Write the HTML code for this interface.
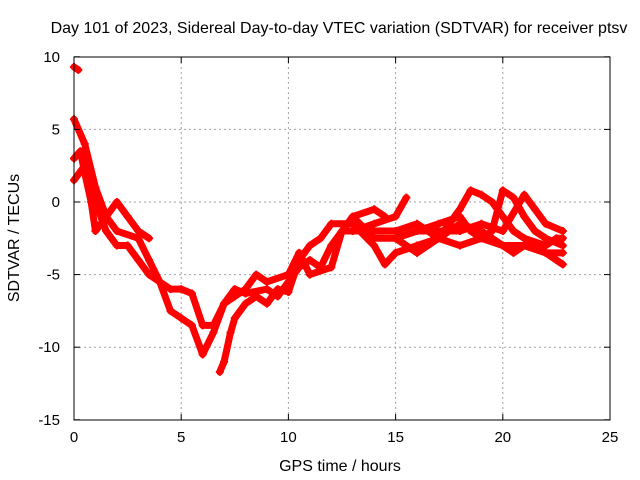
<!DOCTYPE html>
<html><head><meta charset="utf-8"><style>
body{margin:0;background:#fff}
svg{display:block;font-family:"Liberation Sans",sans-serif;font-size:15px}
</style></head><body>
<svg id="chart" width="640" height="480">
<text x="339" y="33" text-anchor="middle" style="font-size:16px">Day 101 of 2023, Sidereal Day-to-day VTEC variation (SDTVAR) for receiver ptsv</text>
<text x="340" y="471" text-anchor="middle" style="font-size:16px">GPS time / hours</text>
<text transform="translate(19,238) rotate(-90)" text-anchor="middle" style="font-size:16px">SDTVAR / TECUs</text>
<g id="grid"></g>
<g id="series"></g>
<rect x="74" y="57" width="536" height="363" fill="none" stroke="#000"/>
<g id="ticks"></g>
</svg>
<script>
const xTicks=[0,5,10,15,20,25];
const yTicks=[10,5,0,-5,-10,-15];
const trackA=[[0,5.7],[0.5,4],[1,1],[1.5,-1],[2,-2],[3,-2.5],[3.5,-4],[4,-5.5],[4.5,-6],[5,-6],[5.5,-6.3],[6,-8.5],[6.5,-8.5],[7,-7],[7.5,-6],[8,-6.3],[9,-6],[9.5,-6.5],[10,-5.5],[10.5,-4.5],[11,-4],[11.5,-4.5],[12,-3],[12.5,-2],[13,-2],[14,-1.5],[15,-1],[15.5,0.3]];
const trackB=[[0,1.5],[0.5,2.5],[1,0],[1.5,-2],[2,-3],[2.5,-3],[3,-4],[3.5,-5],[4,-5.5],[4.5,-7.5],[5,-8],[5.5,-8.5],[6,-10.5],[6.5,-9],[7,-7],[7.5,-6.5],[8,-6],[8.5,-5],[9,-5.5],[10,-5],[10.5,-3.5],[11,-5],[12,-4.5],[12.5,-2],[13,-1],[14,-0.5],[14.5,-1]];
const trackC=[[6.8,-11.7],[7,-11],[7.3,-9],[7.5,-8],[8,-7],[8.5,-6.5],[9,-7],[9.5,-6],[10,-6.2],[10.5,-4],[11,-3],[11.5,-2.5],[12,-1.5],[13,-1.5],[14,-3],[14.5,-4.3],[15,-3.5],[16,-3],[17,-2.5],[18,-1.5],[19,-2],[20,-3],[20.5,-3.5],[21,-3],[22,-3.5],[22.5,-4],[22.8,-4.3]];
const trackD=[[13,-2],[14,-2],[15,-2],[16,-1.5],[17,-2.5],[17.5,-1.5],[18,-0.5],[18.5,0.8],[19,0.5],[19.5,0],[20,-1],[20.5,-2],[21,-2.5],[22,-3],[22.5,-2.5],[22.8,-2.5]];
const trackE=[[15,-2.5],[16,-2],[17,-1.5],[18,-1],[18.5,-2],[19,-2.5],[19.5,-2],[20,0.8],[20.5,0.3],[21,-1],[21.5,-2],[22,-2.5],[22.8,-3]];
const trackF=[[16,-2],[17,-2],[18,-2],[19,-1.5],[20,-2],[21,0.5],[21.5,-0.5],[22,-1.5],[22.8,-2]];
const trackG=[[13,-1],[14,-2.5],[15,-2.5],[16,-3.5],[17,-2.5],[18,-3],[19,-2.5],[20,-3],[21,-3],[22,-3.5],[22.8,-3.5]];
const trackH=[[0,9.3],[0.2,9.1]];
const trackI=[[0,3],[0.3,3.5],[0.5,2],[0.8,0],[1,-2],[1.5,-1],[2,0],[2.5,-1],[3,-2],[3.5,-2.5]];
const tracks=[trackA,trackB,trackC,trackD,trackE,trackF,trackG,trackH,trackI];
const NS="http://www.w3.org/2000/svg";
const X=v=>74+v*536/25, Y=v=>202-v*14.52;
const grid=document.getElementById('grid'),ticks=document.getElementById('ticks'),ser=document.getElementById('series');
function mk(tag,attrs,parent){const e=document.createElementNS(NS,tag);for(const k in attrs)e.setAttribute(k,attrs[k]);parent.appendChild(e);return e;}
xTicks.forEach(t=>{
 if(t>0&&t<25){const g=mk('line',{x1:X(t),x2:X(t),y1:57,y2:420,stroke:'#a0a0a0','stroke-dasharray':'2,3'},grid);
 
 }
 mk('line',{x1:X(t),x2:X(t),y1:420,y2:414,stroke:'#000'},ticks);
 mk('line',{x1:X(t),x2:X(t),y1:57,y2:63,stroke:'#000'},ticks);
 const l=mk('text',{x:X(t),y:442,'text-anchor':'middle'},ticks);l.textContent=t;
 
 
});
yTicks.forEach(t=>{
 if(t<10&&t>-15){const g=mk('line',{x1:74,x2:610,y1:Y(t),y2:Y(t),stroke:'#a0a0a0','stroke-dasharray':'2,3'},grid);
 
 }
 mk('line',{x1:74,x2:80,y1:Y(t),y2:Y(t),stroke:'#000'},ticks);
 mk('line',{x1:610,x2:604,y1:Y(t),y2:Y(t),stroke:'#000'},ticks);
 const l=mk('text',{x:60,y:Y(t)+5,'text-anchor':'end'},ticks);l.textContent=t;
 
 
});
tracks.forEach(tr=>{
 const p=mk('polyline',{points:tr.map(d=>X(d[0])+','+Y(d[1])).join(' '),fill:'none',stroke:'#ff0000','stroke-width':7,'stroke-linejoin':'round','stroke-linecap':'round'},ser);
 
 
 tr.forEach(d=>{
  const m=mk('path',{d:`M${X(d[0])-4},${Y(d[1])}h8M${X(d[0])},${Y(d[1])-4}v8`,stroke:'#ff0000','stroke-width':2},ser);
  
  
 });
});
</script>
</body></html>
